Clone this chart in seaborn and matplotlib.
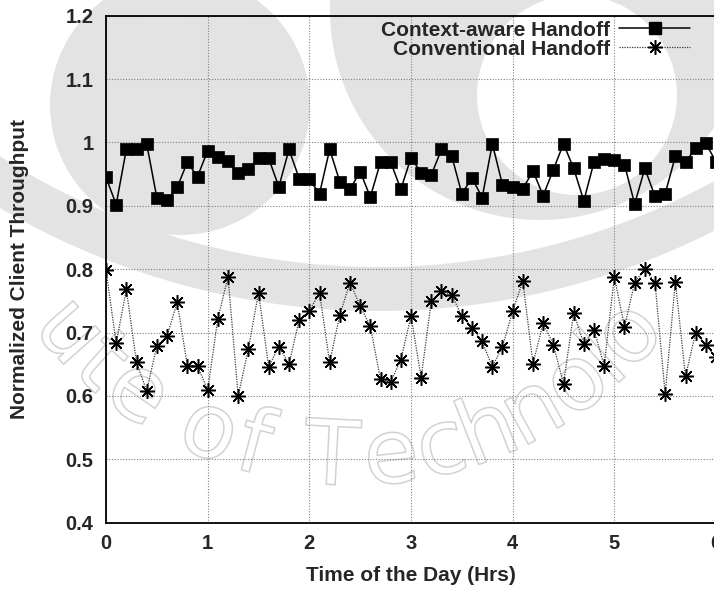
import numpy as np
import matplotlib
matplotlib.use("Agg")
import matplotlib.pyplot as plt
import seaborn as sns
from matplotlib import patheffects
from matplotlib.patches import Circle, Wedge
from matplotlib.textpath import TextPath
from matplotlib.font_manager import FontProperties
from matplotlib.ticker import FuncFormatter
from matplotlib.lines import Line2D

# Time of day (hours), sampled every 6 minutes
hours = [0.0, 0.1, 0.2, 0.3, 0.4, 0.5, 0.6, 0.7, 0.8, 0.9,
         1.0, 1.1, 1.2, 1.3, 1.4, 1.5, 1.6, 1.7, 1.8, 1.9,
         2.0, 2.1, 2.2, 2.3, 2.4, 2.5, 2.6, 2.7, 2.8, 2.9,
         3.0, 3.1, 3.2, 3.3, 3.4, 3.5, 3.6, 3.7, 3.8, 3.9,
         4.0, 4.1, 4.2, 4.3, 4.4, 4.5, 4.6, 4.7, 4.8, 4.9,
         5.0, 5.1, 5.2, 5.3, 5.4, 5.5, 5.6, 5.7, 5.8, 5.9, 6.0]

context_aware = [0.945, 0.902, 0.989, 0.989, 0.998, 0.913, 0.909, 0.929, 0.969, 0.946,
                 0.987, 0.977, 0.971, 0.952, 0.958, 0.975, 0.975, 0.930, 0.989, 0.943,
                 0.942, 0.919, 0.989, 0.938, 0.926, 0.954, 0.914, 0.969, 0.969, 0.926,
                 0.976, 0.952, 0.949, 0.989, 0.979, 0.919, 0.944, 0.913, 0.998, 0.933,
                 0.929, 0.927, 0.955, 0.916, 0.957, 0.998, 0.959, 0.908, 0.969, 0.974,
                 0.972, 0.965, 0.903, 0.959, 0.915, 0.919, 0.978, 0.969, 0.991, 0.999, 0.969]

conventional = [0.799, 0.683, 0.768, 0.653, 0.608, 0.679, 0.694, 0.748, 0.648, 0.648,
                0.609, 0.722, 0.788, 0.600, 0.674, 0.763, 0.646, 0.678, 0.650, 0.720,
                0.734, 0.763, 0.653, 0.728, 0.779, 0.742, 0.710, 0.626, 0.622, 0.657,
                0.726, 0.629, 0.750, 0.765, 0.760, 0.726, 0.708, 0.686, 0.646, 0.678,
                0.734, 0.781, 0.651, 0.715, 0.681, 0.619, 0.731, 0.682, 0.704, 0.648,
                0.788, 0.709, 0.779, 0.800, 0.779, 0.603, 0.780, 0.631, 0.700, 0.680, 0.661]

series_labels = ["Context-aware Handoff", "Conventional Handoff"]
x_ticks = [0, 1, 2, 3, 4, 5, 6]
y_ticks = [0.4, 0.5, 0.6, 0.7, 0.8, 0.9, 1.0, 1.1, 1.2]
x_label = "Time of the Day (Hrs)"
y_label = "Normalized Client Throughput"
watermark = "Institute of Technology"

sns.set_theme(style="white")
plt.rcParams["font.family"] = ["Liberation Sans", "DejaVu Sans"]

W, H = 714, 590
fig = plt.figure(figsize=(W / 100, H / 100), dpi=100)
fig.patch.set_facecolor("white")

# ---- faint logo watermark behind the plot (pixel coordinates, y down) ----
bg = fig.add_axes([0, 0, 1, 1], zorder=0)
bg.set_xlim(0, W)
bg.set_ylim(H, 0)
bg.axis("off")
wm_gray = "#e3e3e3"
bg.add_patch(Circle((180, 105), 130, color=wm_gray, lw=0))
bg.add_patch(Circle((540, 10), 210, color=wm_gray, lw=0))
bg.add_patch(Circle((577, 95), 100, color="white", lw=0))
bg.add_patch(Wedge((378, -434), 745, 0, 180, width=44, color=wm_gray, lw=0))

# arched lettering, one glyph at a time along a circle
fp = FontProperties(family="DejaVu Sans")
em = 90.0
reach = 0.7 * em
cx, cy, R = 351.0, 84.0, 376.0
adv = []
for ch in watermark:
    if ch == " ":
        adv.append(0.30 * em)
    else:
        ext = TextPath((0, 0), ch, size=em, prop=fp).get_extents()
        adv.append(ext.width + 0.10 * em)
centers = np.cumsum(adv) - np.array(adv) / 2
s_T = centers[watermark.index("T")]
theta_T = np.deg2rad(92.9)
for ch, s in zip(watermark, centers):
    if ch == " ":
        continue
    th = theta_T - (s - s_T) / R
    px, py = cx + R * np.cos(th), cy + R * np.sin(th)
    if px - reach < 0 or px + reach > W or py - reach < 0:
        continue
    bg.text(px, py, ch, fontsize=em / (100 / 72), family="DejaVu Sans",
            color=(1, 1, 1, 0),
            rotation=90 - np.rad2deg(th), rotation_mode="anchor",
            ha="center", va="center",
            path_effects=[patheffects.Stroke(linewidth=1.1, foreground="#d2d2d2")])

# ---- main plot ----
left, bottom = 106, 67.3
ax = fig.add_axes([left / W, bottom / H, 610 / W, 507 / H], zorder=1)
ax.set_facecolor("none")

sns.lineplot(x=hours, y=context_aware, ax=ax, color="black", lw=1.1,
             marker="s", markersize=9.2, mec="black", mfc="black", mew=0.5,
             label=series_labels[0], zorder=4)
sns.lineplot(x=hours, y=conventional, ax=ax, color="#3a3a3a", lw=0.9,
             linestyle=(0, (1, 1)),
             marker=(8, 2, 0), markersize=10.5, mec="black", mew=1.1,
             label=series_labels[1], zorder=3)

ax.set_xlim(0, 6)
ax.set_ylim(0.4, 1.2)
ax.set_xticks(x_ticks)
ax.set_yticks(y_ticks)
ax.yaxis.set_major_formatter(FuncFormatter(lambda v, p: f"{v:g}"))
ax.grid(True, color="#808080", linestyle=(0, (1, 1.5)), lw=0.8)
ax.set_axisbelow(True)
ax.tick_params(axis="both", length=0, labelsize=14.5)
ax.tick_params(axis="y", pad=9)
ax.tick_params(axis="x", pad=8)
for lab in ax.get_xticklabels() + ax.get_yticklabels():
    lab.set_fontweight("bold")
for sp in ax.spines.values():
    sp.set_visible(True)
    sp.set_color("black")
    sp.set_linewidth(1.3)

ax.set_xlabel(x_label, fontsize=15, fontweight="bold")
ax.set_ylabel(y_label, fontsize=15, fontweight="bold")
ax.xaxis.set_label_coords(0.5, -0.085)
ax.yaxis.set_label_coords(-0.127, 0.5)

handles = [
    Line2D([], [], color="black", lw=1.1, marker="s", markersize=9.2,
           mfc="black", mec="black"),
    Line2D([], [], color="#3a3a3a", lw=0.9, linestyle=(0, (1, 1)),
           marker=(8, 2, 0), markersize=10.5, mec="black", mew=1.1),
]
legend_font = FontProperties(family=["Liberation Sans", "DejaVu Sans"],
                             weight="bold", size=15)
ax.legend(handles, series_labels, loc="upper right",
          bbox_to_anchor=(0.9574, 0.990), frameon=False, markerfirst=False,
          handlelength=3.4, handletextpad=0.45, labelspacing=0.0,
          borderpad=0, borderaxespad=0, numpoints=1, prop=legend_font)

fig.savefig("out.png", dpi=100)
